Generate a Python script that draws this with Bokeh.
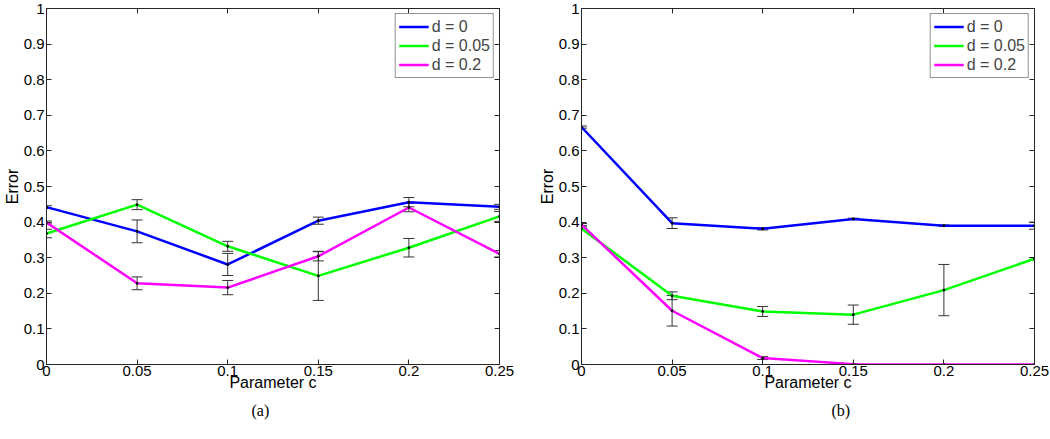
from bokeh.plotting import figure
from bokeh.layouts import row
from bokeh.models import (Range1d, FixedTicker, NumeralTickFormatter, LinearAxis,
                          Whisker, TeeHead, ColumnDataSource, Legend, LegendItem, Title)
from bokeh.embed import file_html
from bokeh.resources import INLINE

# ---------------- data ----------------
c_values = [0, 0.05, 0.1, 0.15, 0.2, 0.25]
series_labels = ["d = 0", "d = 0.05", "d = 0.2"]
series_colors = ["#0000FF", "#00FF00", "#FF00FF"]
x_ticks = [0, 0.05, 0.1, 0.15, 0.2, 0.25]
y_ticks = [0, 0.1, 0.2, 0.3, 0.4, 0.5, 0.6, 0.7, 0.8, 0.9, 1]
x_label = "Parameter c"
y_label = "Error"
captions = ["(a)", "(b)"]

# panel (a)
a_d0 = [0.442, 0.374, 0.281, 0.404, 0.456, 0.443]
a_d0_err = [0.004, 0.032, 0.031, 0.010, 0.013, 0.007]
a_d005 = [0.368, 0.449, 0.332, 0.249, 0.328, 0.416]
a_d005_err = [0.012, 0.014, 0.014, 0.069, 0.026, 0.014]
a_d02 = [0.399, 0.228, 0.216, 0.304, 0.441, 0.311]
a_d02_err = [0.004, 0.018, 0.020, 0.013, 0.012, 0.009]

# panel (b)
b_d0 = [0.667, 0.397, 0.381, 0.409, 0.390, 0.390]
b_d0_err = [0.003, 0.015, 0.003, 0.002, 0.002, 0.010]
b_d005 = [0.382, 0.193, 0.149, 0.140, 0.209, 0.297]
b_d005_err = [0.004, 0.011, 0.014, 0.027, 0.072, 0.003]
b_d02 = [0.393, 0.151, 0.018, 0.001, 0.0, 0.0]
b_d02_err = [0.003, 0.043, 0.004, 0.001, 0.0, 0.0]

panels = [
    ([a_d0, a_d005, a_d02], [a_d0_err, a_d005_err, a_d02_err]),
    ([b_d0, b_d005, b_d02], [b_d0_err, b_d005_err, b_d02_err]),
]

FONT = "Liberation Sans"
AXIS_COLOR = "#262626"


def make_panel(values, errors, caption, right_border, caption_offset):
    p = figure(frame_width=453, frame_height=356, output_backend="svg",
               toolbar_location=None, x_range=Range1d(0, 0.25), y_range=Range1d(0, 1),
               min_border_left=36, min_border_right=right_border,
               min_border_top=8, min_border_bottom=0)
    p.background_fill_color = "white"
    p.border_fill_color = "white"
    p.outline_line_color = AXIS_COLOR
    p.outline_line_width = 1
    p.xgrid.visible = False
    p.ygrid.visible = False

    for ax in (p.xaxis[0], p.yaxis[0]):
        ax.major_tick_in = 5
        ax.major_tick_out = 0
        ax.minor_tick_line_color = None
        ax.axis_line_color = AXIS_COLOR
        ax.major_tick_line_color = AXIS_COLOR
        ax.major_label_text_font = FONT
        ax.major_label_text_font_size = "15px"
        ax.major_label_text_color = "black"
        ax.axis_label_text_font = FONT
        ax.axis_label_text_font_size = "16px"
        ax.axis_label_text_font_style = "normal"
        ax.axis_label_text_color = "black"

    p.xaxis.ticker = FixedTicker(ticks=x_ticks)
    p.yaxis.ticker = FixedTicker(ticks=y_ticks)
    p.xaxis.formatter = NumeralTickFormatter(format="0.[00]")
    p.yaxis.formatter = NumeralTickFormatter(format="0.[0]")
    p.xaxis.axis_label = x_label
    p.yaxis.axis_label = y_label
    p.yaxis.major_label_standoff = 2
    p.yaxis.axis_label_standoff = 0
    p.xaxis.major_label_standoff = 1
    p.xaxis.axis_label_standoff = -5

    # mirror ticks on top / right
    for place, tick_list in (("above", x_ticks), ("right", y_ticks)):
        ax = LinearAxis(ticker=FixedTicker(ticks=tick_list), major_tick_in=5, major_tick_out=0,
                        minor_tick_line_color=None, major_label_text_font_size="0px",
                        major_label_standoff=0, axis_line_color=AXIS_COLOR,
                        major_tick_line_color=AXIS_COLOR, major_label_text_color=None)
        p.add_layout(ax, place)

    items = []
    for vals, errs, lab, col in zip(values, errors, series_labels, series_colors):
        src = ColumnDataSource(dict(x=c_values, y=vals,
                                    lo=[v - e for v, e in zip(vals, errs)],
                                    hi=[v + e for v, e in zip(vals, errs)]))
        r = p.line("x", "y", source=src, line_color=col, line_width=2.5)
        items.append(LegendItem(label=lab, renderers=[r]))
        w = Whisker(base="x", lower="lo", upper="hi", source=src,
                    line_color="#333333", line_width=1,
                    upper_head=TeeHead(size=11, line_color="#333333", line_width=1),
                    lower_head=TeeHead(size=11, line_color="#333333", line_width=1))
        p.add_layout(w)
        p.scatter("x", "y", source=src, size=2, color="black")

    legend = Legend(items=items, location="top_right")
    legend.label_text_font = FONT
    legend.label_text_font_size = "16px"
    legend.label_height = 16
    legend.glyph_height = 19
    legend.glyph_width = 30
    legend.spacing = 0
    legend.padding = 3
    legend.margin = 5
    legend.label_standoff = 3
    legend.border_line_color = AXIS_COLOR
    legend.border_line_width = 1
    legend.background_fill_alpha = 1
    p.add_layout(legend)

    t = Title(text=caption, align="left", offset=caption_offset, text_font="Liberation Serif",
              text_font_size="16px", text_font_style="normal", text_color="black",
              standoff=12)
    p.add_layout(t, "below")
    return p


p1 = make_panel(*panels[0], captions[0], 36, 205)
p2 = make_panel(*panels[1], captions[1], 15, 250)
layout = row(p1, p2)

open("out.html", "w").write(file_html(layout, INLINE))
